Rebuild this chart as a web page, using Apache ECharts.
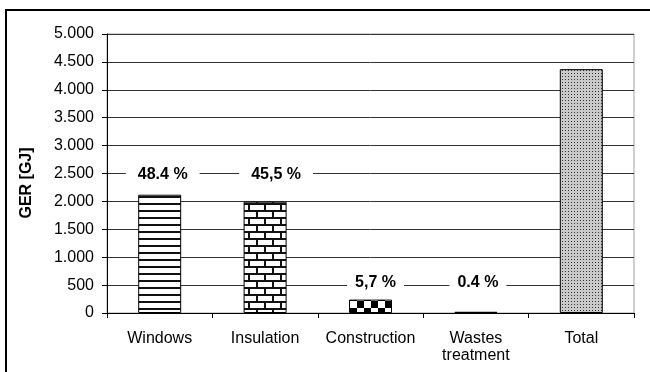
<!DOCTYPE html>
<html>
<head>
<meta charset="utf-8">
<script src="https://cdn.jsdelivr.net/npm/echarts@6/dist/echarts.min.js"></script>
<style>
  html, body { margin: 0; padding: 0; background: #fff; }
  #chart { width: 650px; height: 372px; }
</style>
</head>
<body>
<div id="chart"></div>
<script>
const categories = ['Windows', 'Insulation', 'Construction', 'Wastes\ntreatment', 'Total'];
const gerValues = [2120, 1995, 240, 22, 4370];
const shareLabels = ['48.4 %', '45,5 %', '5,7 %', '0.4 %', ''];
const shareLabelLevels = [2500, 2500, 500, 500, null];
const yTicks = { min: 0, max: 5000, step: 500 };

// fill patterns, drawn on small tiles
function makeTile(w, h, paint) {
  const c = document.createElement('canvas');
  c.width = w;
  c.height = h;
  const ctx = c.getContext('2d');
  ctx.fillStyle = '#fff';
  ctx.fillRect(0, 0, w, h);
  paint(ctx);
  return { image: c, repeat: 'repeat' };
}

const stripes = makeTile(8, 7, (ctx) => {
  ctx.fillStyle = '#111';
  ctx.fillRect(0, 0, 8, 2);
});

const bricks = makeTile(16, 14, (ctx) => {
  ctx.fillStyle = '#111';
  ctx.fillRect(0, 0, 16, 2);
  ctx.fillRect(0, 7, 16, 2);
  ctx.fillRect(0, 0, 2, 7);
  ctx.fillRect(8, 7, 2, 7);
});

const checks = makeTile(14, 14, (ctx) => {
  ctx.fillStyle = '#000';
  ctx.fillRect(0, 0, 7, 7);
  ctx.fillRect(7, 7, 7, 7);
});

const dots = makeTile(3, 3, (ctx) => {
  ctx.fillStyle = '#cacaca';
  ctx.fillRect(0, 0, 3, 3);
  ctx.fillStyle = '#333';
  ctx.fillRect(1, 1, 1, 1);
});

const fills = [stripes, bricks, checks, '#000', dots];

const barData = gerValues.map((v, i) => ({
  value: v,
  itemStyle: { color: fills[i] },
}));

const labelPad = [[1, 12], [1, 12], [1, 8], [1, 8], [0, 0]];
const labelNudge = [3, 11, 5, 2, 0];
const labelData = shareLabelLevels.map((v, i) => ({
  value: v === null ? '-' : v,
  label: {
    formatter: shareLabels[i],
    color: '#000',
    padding: labelPad[i],
    offset: [labelNudge[i], i < 2 ? 1 : -3],
  },
}));

const thousands = (v) => String(v).replace(/\B(?=(\d{3})+(?!\d))/g, '.');

const chart = echarts.init(document.getElementById('chart'));
chart.setOption({
  animation: false,
  textStyle: { fontFamily: 'Liberation Sans, Arial, sans-serif' },
  grid: {
    left: 107, right: 16, top: 34, bottom: 59,
    show: true, borderColor: '#a0a0a0', borderWidth: 1,
  },
  graphic: [
    {
      type: 'rect',
      shape: { x: 6, y: 10, width: 700, height: 420 },
      style: { fill: 'none', stroke: '#000', lineWidth: 2 },
      z: -1,
    },
    {
      type: 'text',
      x: 27, y: 183,
      rotation: Math.PI / 2,
      style: {
        text: 'GER [GJ]',
        font: 'bold 16px Liberation Sans, Arial, sans-serif',
        fill: '#000',
        align: 'center',
        verticalAlign: 'middle',
      },
    },
  ],
  xAxis: {
    type: 'category',
    data: categories,
    axisLine: { lineStyle: { color: '#000', width: 1 } },
    axisTick: { show: true, length: 5, lineStyle: { color: '#000' } },
    axisLabel: {
      interval: 0, color: '#000', fontSize: 16, margin: 17, lineHeight: 17,
    },
  },
  yAxis: {
    type: 'value',
    min: yTicks.min,
    max: yTicks.max,
    interval: yTicks.step,
    axisLine: { show: true, lineStyle: { color: '#000', width: 1 } },
    axisTick: { show: true, length: 5, lineStyle: { color: '#000' } },
    axisLabel: { color: '#000', fontSize: 16, margin: 13, formatter: thousands },
    splitLine: { lineStyle: { color: '#333', width: 1 } },
  },
  series: [
    {
      type: 'bar',
      data: barData,
      barWidth: 43,
      itemStyle: { borderColor: '#000', borderWidth: 1 },
    },
    {
      type: 'scatter',
      data: labelData,
      symbolSize: 0,
      z: 5,
      itemStyle: { opacity: 1 },
      label: {
        show: true,
        position: 'inside',
        color: '#000',
        fontSize: 16,
        fontWeight: 'bold',
        backgroundColor: '#fff',
      },
    },
  ],
});
</script>
</body>
</html>
